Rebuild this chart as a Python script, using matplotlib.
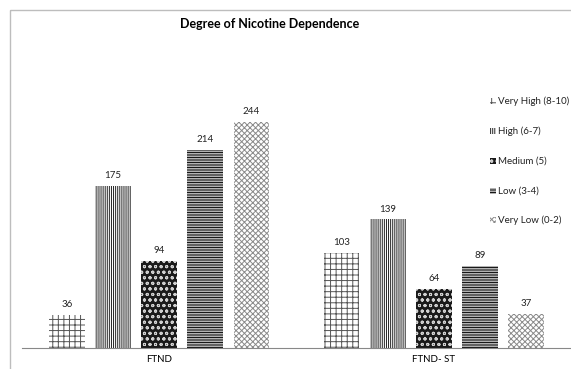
import matplotlib.pyplot as plt
import numpy as np
from matplotlib.patches import Rectangle

plt.rcParams["font.family"] = ["Lato", "DejaVu Sans"]
plt.rcParams["hatch.linewidth"] = 0.7

groups = ["FTND", "FTND- ST"]
levels = ["Very High (8-10)", "High (6-7)", "Medium (5)", "Low (3-4)", "Very Low (0-2)"]
ftnd = [36, 175, 94, 214, 244]
ftnd_st = [103, 139, 64, 89, 37]

# hatch, face, hatch colour for each level
styles = [
    ("+++", "white", "#555555"),
    ("||||||||", "white", "#222222"),
    ("ooo", "#1a1a1a", "#d0d0d0"),
    ("----------", "white", "#111111"),
    ("xxxxxx", "white", "#8a8a8a"),
]

W, H = 571, 369
fig = plt.figure(figsize=(W / 100, H / 100), dpi=100)

ax = fig.add_axes([22 / W, 21 / H, 1 - 22 / W, 278 / H])
x = np.arange(len(groups))
step = 0.168
width = 0.131
values = np.array([ftnd, ftnd_st])

for i, level in enumerate(levels):
    hatch, face, hc = styles[i]
    pos = x + (i - 2) * step
    bars = ax.bar(pos, values[:, i], width, facecolor=face, edgecolor=hc,
                  hatch=hatch, lw=0, label=level)
    for b, v in zip(bars, values[:, i]):
        ax.text(b.get_x() + b.get_width() / 2, v + 6, str(v),
                ha="center", va="bottom", fontsize=7, color="#222222")

ax.set_xlim(-0.5, 1.5)
ax.set_ylim(0, 300)
for s in ["top", "right", "left"]:
    ax.spines[s].set_visible(False)
ax.spines["bottom"].set_color("#888888")
ax.set_yticks([])
ax.set_xticks(x)
ax.set_xticklabels(groups, fontsize=7)
ax.tick_params(axis="x", length=0, pad=5)
ax.patch.set_alpha(0)

# overlay in pixel units for the frame, title and legend
ov = fig.add_axes([0, 0, 1, 1], zorder=3)
ov.set_xlim(0, W)
ov.set_ylim(H, 0)
ov.axis("off")
ov.patch.set_alpha(0)
ov.add_patch(Rectangle((10, 10), W, H, fill=False, edgecolor="#bdbdbd", lw=1.0))
ov.text(270, 24, "Degree of Nicotine Dependence", ha="center", va="center",
        fontsize=9, fontweight="bold")

legend_y = [101, 131, 161, 191, 220]
for (hatch, face, hc), level, yy in zip(styles, levels, legend_y):
    ov.add_patch(Rectangle((490, yy - 3), 6, 6, facecolor=face, edgecolor=hc,
                           hatch=hatch, lw=0))
    ov.text(498, yy, level, ha="left", va="center", fontsize=7, color="#222222")

fig.savefig("out.png", dpi=100)
